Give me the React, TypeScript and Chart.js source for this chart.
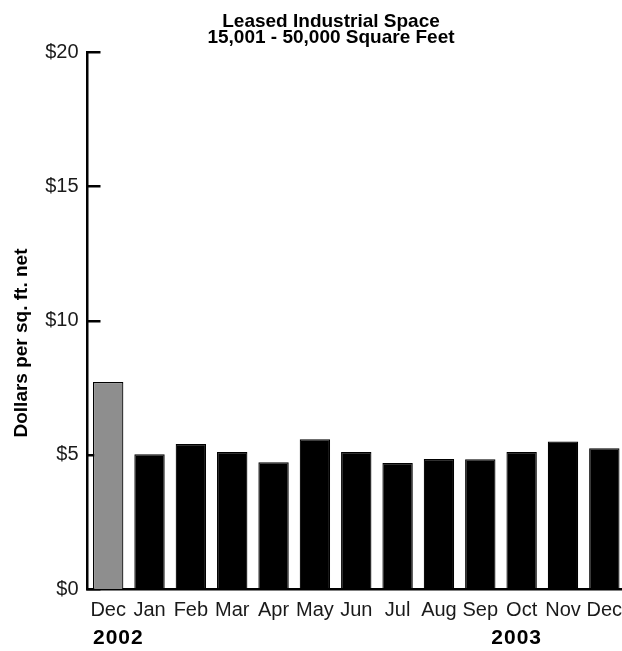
import React, { useEffect, useRef } from "react";
import { Chart, registerables } from "chart.js";

Chart.register(...registerables);

// ---- data ----
const categories = ["Dec", "Jan", "Feb", "Mar", "Apr", "May", "Jun", "Jul", "Aug", "Sep", "Oct", "Nov", "Dec"];
const values = [7.71, 5.02, 5.4, 5.1, 4.72, 5.58, 5.1, 4.69, 4.84, 4.83, 5.1, 5.49, 5.24];
const barColors = ["#8e8e8e", "#000000", "#000000", "#000000", "#000000", "#000000", "#000000", "#000000", "#000000", "#000000", "#000000", "#000000", "#000000"];
const yearLabels = ["2002", "2003"];
const yearIndices = [0, 10];
const titleLines = ["Leased Industrial Space", "15,001 - 50,000 Square Feet"];
const yAxisTitle = "Dollars per sq. ft. net";
const yMin = 0;
const yMax = 20;
const yStep = 5;

const FONT = "'Liberation Sans', Arial, Helvetica, sans-serif";

const decorPlugin = {
  id: "decor",
  beforeDatasetsDraw(chart: any) {
    const { ctx, chartArea } = chart;
    const y = chart.scales.y;
    ctx.save();
    ctx.strokeStyle = "#000";
    ctx.lineWidth = 2.5;
    y.ticks.forEach((t: any) => {
      const py = Math.round(y.getPixelForValue(t.value)) + 0.25;
      ctx.beginPath();
      ctx.moveTo(chartArea.left - 1, py);
      ctx.lineTo(chartArea.left + 13, py);
      ctx.stroke();
    });
    ctx.restore();
  },
  afterDraw(chart: any) {
    const { ctx, chartArea } = chart;
    const meta = chart.getDatasetMeta(0);
    ctx.save();
    // year labels
    ctx.fillStyle = "#000";
    ctx.font = `bold 21px ${FONT}`;
    (ctx as any).letterSpacing = "1px";
    ctx.textBaseline = "alphabetic";
    yearLabels.forEach((txt, i) => {
      const bar = meta.data[yearIndices[i]];
      if (i === 0) {
        ctx.textAlign = "left";
        ctx.fillText(txt, bar.x - bar.width / 2, chartArea.bottom + 55);
      } else {
        ctx.textAlign = "center";
        ctx.fillText(txt, bar.x - 5, chartArea.bottom + 55);
      }
    });
    (ctx as any).letterSpacing = "0px";
    // y axis title
    ctx.translate(27, chartArea.bottom - 246);
    ctx.rotate(-Math.PI / 2);
    ctx.textAlign = "center";
    ctx.textBaseline = "alphabetic";
    ctx.font = `bold 19px ${FONT}`;
    ctx.fillText(yAxisTitle, 0, 0);
    ctx.restore();
  },
};

export default function App() {
  const ref = useRef<HTMLCanvasElement | null>(null);

  useEffect(() => {
    if (!ref.current) return;
    const chart = new Chart(ref.current, {
      type: "bar",
      data: {
        labels: categories,
        datasets: [
          {
            data: values,
            backgroundColor: barColors,
            borderColor: "#000",
            borderWidth: 1.2,
            barPercentage: 0.735,
            categoryPercentage: 1,
          },
        ],
      },
      options: {
        responsive: false,
        animation: false,
        layout: { padding: { left: 37, right: 0, top: 0, bottom: 22 } },
        plugins: {
          legend: { display: false },
          tooltip: { enabled: false },
          title: {
            display: true,
            text: titleLines,
            color: "#000",
            font: { family: FONT, size: 19, weight: "bold", lineHeight: 0.85 },
            padding: { top: 14, bottom: 5.7 },
          },
        },
        scales: {
          x: {
            grid: { display: false, drawTicks: false },
            border: { display: true, color: "#000", width: 2.5 },
            ticks: {
              color: "#1a1a1a",
              font: { family: FONT, size: 20 },
              padding: 9,
              maxRotation: 0,
              autoSkip: false,
            },
            afterFit: (scale: any) => {
              scale.height = 40;
              scale.paddingLeft = 0;
              scale.paddingRight = 0;
            },
          },
          y: {
            min: yMin,
            max: yMax,
            grid: { display: false, drawTicks: false },
            border: { display: true, color: "#000", width: 2.5 },
            ticks: {
              stepSize: yStep,
              color: "#1a1a1a",
              font: { family: FONT, size: 20 },
              padding: 9,
              callback: (v: any) => "$" + v,
            },
            afterFit: (scale: any) => {
              scale.width = 50.5;
              scale.paddingTop = 0;
              scale.paddingBottom = 0;
            },
          },
        },
      },
      plugins: [decorPlugin],
    });
    return () => chart.destroy();
  }, []);

  return (
    <div style={{ position: "fixed", left: 0, top: 0, width: 622, height: 651, overflow: "hidden", background: "#fff" }}>
      <canvas ref={ref} width={625} height={651} style={{ display: "block", width: 625, height: 651 }} />
    </div>
  );
}
